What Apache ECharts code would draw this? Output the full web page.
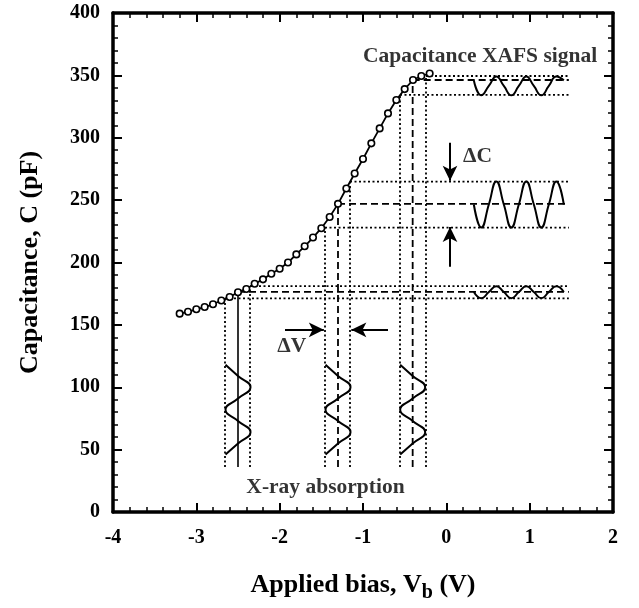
<!DOCTYPE html>
<html>
<head>
<meta charset="utf-8">
<script src="https://cdn.jsdelivr.net/npm/echarts@6/dist/echarts.min.js"></script>
<style>
html,body{margin:0;padding:0;background:#fff;}
#chart{width:639px;height:608px;}
</style>
</head>
<body>
<div id="chart"></div>
<script>
// ---- data ----
const biasV = [-3.2,-3.1,-3.0,-2.9,-2.8,-2.7,-2.6,-2.5,-2.4,-2.3,-2.2,-2.1,-2.0,-1.9,-1.8,-1.7,-1.6,-1.5,-1.4,-1.3,-1.2,-1.1,-1.0,-0.9,-0.8,-0.7,-0.6,-0.5,-0.4,-0.3,-0.2];
const capPF = [159,160.5,162.5,164.3,166.5,169.5,172.3,176.2,178.8,183,186.5,191,195,200,206.5,213,220,227.5,236.5,247,259.3,271.3,283,295.5,307.5,319.5,330.3,339,346.3,349.5,351.5];

// guide lines: three bias working points (low, centre, high) and their capacitance levels
const guideX = [[-2.656,-2.5,-2.356],[-1.456,-1.3,-1.156],[-0.556,-0.404,-0.244]];
const guideC = [[171.3,176.4,181],[228,247,264.8],[334.3,346.3,349.5]];
const guideFloor = 36;
const guideEnd = 1.47;

// X-ray absorption modulation (vertical waves)
const absY  = [118,109,100,91,82,73,64,55,46];
const absDV = [-0.15,0,0.15,0,-0.15,0,0.15,0,-0.15];

// capacitance XAFS signal (horizontal waves)
const xafsV   = [0.33,0.42,0.51,0.60,0.69,0.78,0.87,0.96,1.05,1.14,1.23,1.32,1.41];
const xafsTop = [346,334,341.5,349,341.5,334,341.5,349,341.5,334,341.5,349,346];
const xafsMid = [246.5,228,246.5,265,246.5,228,246.5,265,246.5,228,246.5,265,246.5];
const xafsLow = [176.3,171.3,176.3,181,176.3,171.3,176.3,181,176.3,171.3,176.3,181,176.3];

// arrows [x1,y1,x2,y2]
const arrows = [
  [0.044,296,0.044,265.5],
  [0.044,196.5,0.044,228.5],
  [-1.936,146,-1.47,146],
  [-0.70,146,-1.14,146]
];

// annotations
const notes = [
  {text:'Capacitance XAFS signal', x:1.81, y:365, align:'right'},
  {text:'ΔC', x:0.20, y:285, align:'left'},
  {text:'ΔV', x:-2.03, y:132.5, align:'left'},
  {text:'X-ray absorption', x:-1.45, y:20, align:'center'}
];

const xTicks = [-4,-3,-2,-1,0,1,2];
const yTicks = [0,50,100,150,200,250,300,350,400];

// ---- build ----
const FONT = "'Liberation Serif','Times New Roman',serif";
const dotted = [2,2.5];
const dashed = [7,4];

function seg(p, style){
  return {type:'line', data:p, showSymbol:false, symbol:'none', silent:true,
    lineStyle:Object.assign({color:'#000', width:1.8}, style), z:2, animation:false};
}

const series = [];
guideX.forEach((xs, g) => {
  xs.forEach((x, k) => {
    const c = guideC[g][k];
    const isCentre = k === 1;
    const vType = isCentre ? (g === 0 ? 'solid' : dashed) : dotted;
    const hType = isCentre ? dashed : dotted;
    series.push(seg([[x, guideFloor],[x, c]], {type:vType, width: (isCentre && g===0) ? 1.6 : 1.8}));
    series.push(seg([[x, c],[guideEnd, c]], {type:hType}));
  });
});

// vertical absorption waves
guideX.forEach((xs) => {
  const cx = xs[1];
  series.push({type:'line', smooth:0.5, showSymbol:false, symbol:'none', silent:true,
    data: absY.map((y,i)=>[cx + absDV[i], y]),
    lineStyle:{color:'#000', width:2}, z:3, animation:false});
});

// horizontal XAFS waves
[xafsTop, xafsMid, xafsLow].forEach((arr) => {
  series.push({type:'line', smooth:0.5, showSymbol:false, symbol:'none', silent:true,
    data: xafsV.map((x,i)=>[x, arr[i]]),
    lineStyle:{color:'#000', width:2}, z:3, animation:false});
});

// arrows
series.push({type:'line', data:[], silent:true, animation:false,
  markLine:{silent:true, animation:false, symbol:['none','arrow'], symbolSize:[11,15],
    label:{show:false},
    lineStyle:{color:'#000', width:2, type:'solid'},
    emphasis:{disabled:true},
    data: arrows.map(a=>[{coord:[a[0],a[1]]},{coord:[a[2],a[3]]}])
  }});

// main C-V curve
series.push({type:'line', data: biasV.map((v,i)=>[v, capPF[i]]), symbol:'circle', symbolSize:6.5,
  showSymbol:true, silent:true,
  itemStyle:{color:'#fff', borderColor:'#000', borderWidth:1.6},
  lineStyle:{color:'#000', width:1.8}, z:5, animation:false});

// annotations
series.push({type:'scatter', symbolSize:0, silent:true, animation:false, z:6,
  data: notes.map(n=>({value:[n.x,n.y], label:{show:true, formatter:n.text, position:[0,0], align:n.align,
    verticalAlign:'middle', color:'#000', fontFamily:FONT, fontWeight:'bold', fontSize:21.5}}))
});

const axisLineStyle = {onZero:false, lineStyle:{color:'#000', width:3.5}};
const tickCommon = {show:true, inside:true, length:9, lineStyle:{color:'#000', width:2}};
const minorCommon = {show:true, splitNumber:5, length:5, lineStyle:{color:'#000', width:1.5}};
const labelCommon = {color:'#000', fontFamily:FONT, fontWeight:'bold', fontSize:20};

const chart = echarts.init(document.getElementById('chart'), null, {renderer:'canvas'});
chart.setOption({
  animation:false,
  backgroundColor:'#fff',
  grid:{left:113, top:13, width:500, height:499, outerBoundsMode:'none', containLabel:false},
  xAxis:[
    {type:'value', min:xTicks[0], max:xTicks[xTicks.length-1], interval:1, position:'bottom',
     axisLine:axisLineStyle, axisTick:tickCommon, minorTick:minorCommon, splitLine:{show:false},
     axisLabel:Object.assign({margin:16}, labelCommon),
     name:'{a|Applied bias, V}{s|b}{a| (V)}', nameLocation:'middle', nameGap:55,
     nameTextStyle:{rich:{
       a:{fontFamily:FONT, fontWeight:'bold', fontSize:26, color:'#000'},
       s:{fontFamily:FONT, fontWeight:'bold', fontSize:20, color:'#000', padding:[16,0,0,0]}
     }}},
    {type:'value', min:xTicks[0], max:xTicks[xTicks.length-1], interval:1, position:'top',
     axisLine:axisLineStyle, axisTick:tickCommon, minorTick:minorCommon, splitLine:{show:false},
     axisLabel:{show:false}}
  ],
  yAxis:[
    {type:'value', min:yTicks[0], max:yTicks[yTicks.length-1], interval:50, position:'left',
     axisLine:axisLineStyle, axisTick:tickCommon, minorTick:minorCommon, splitLine:{show:false},
     axisLabel:Object.assign({margin:13}, labelCommon),
     name:'Capacitance, C (pF)', nameLocation:'middle', nameGap:70,
     nameTextStyle:{fontFamily:FONT, fontWeight:'bold', fontSize:26, color:'#000'}},
    {type:'value', min:yTicks[0], max:yTicks[yTicks.length-1], interval:50, position:'right',
     axisLine:axisLineStyle, axisTick:tickCommon, minorTick:minorCommon, splitLine:{show:false},
     axisLabel:{show:false}}
  ],
  series: series
});
</script>
</body>
</html>
